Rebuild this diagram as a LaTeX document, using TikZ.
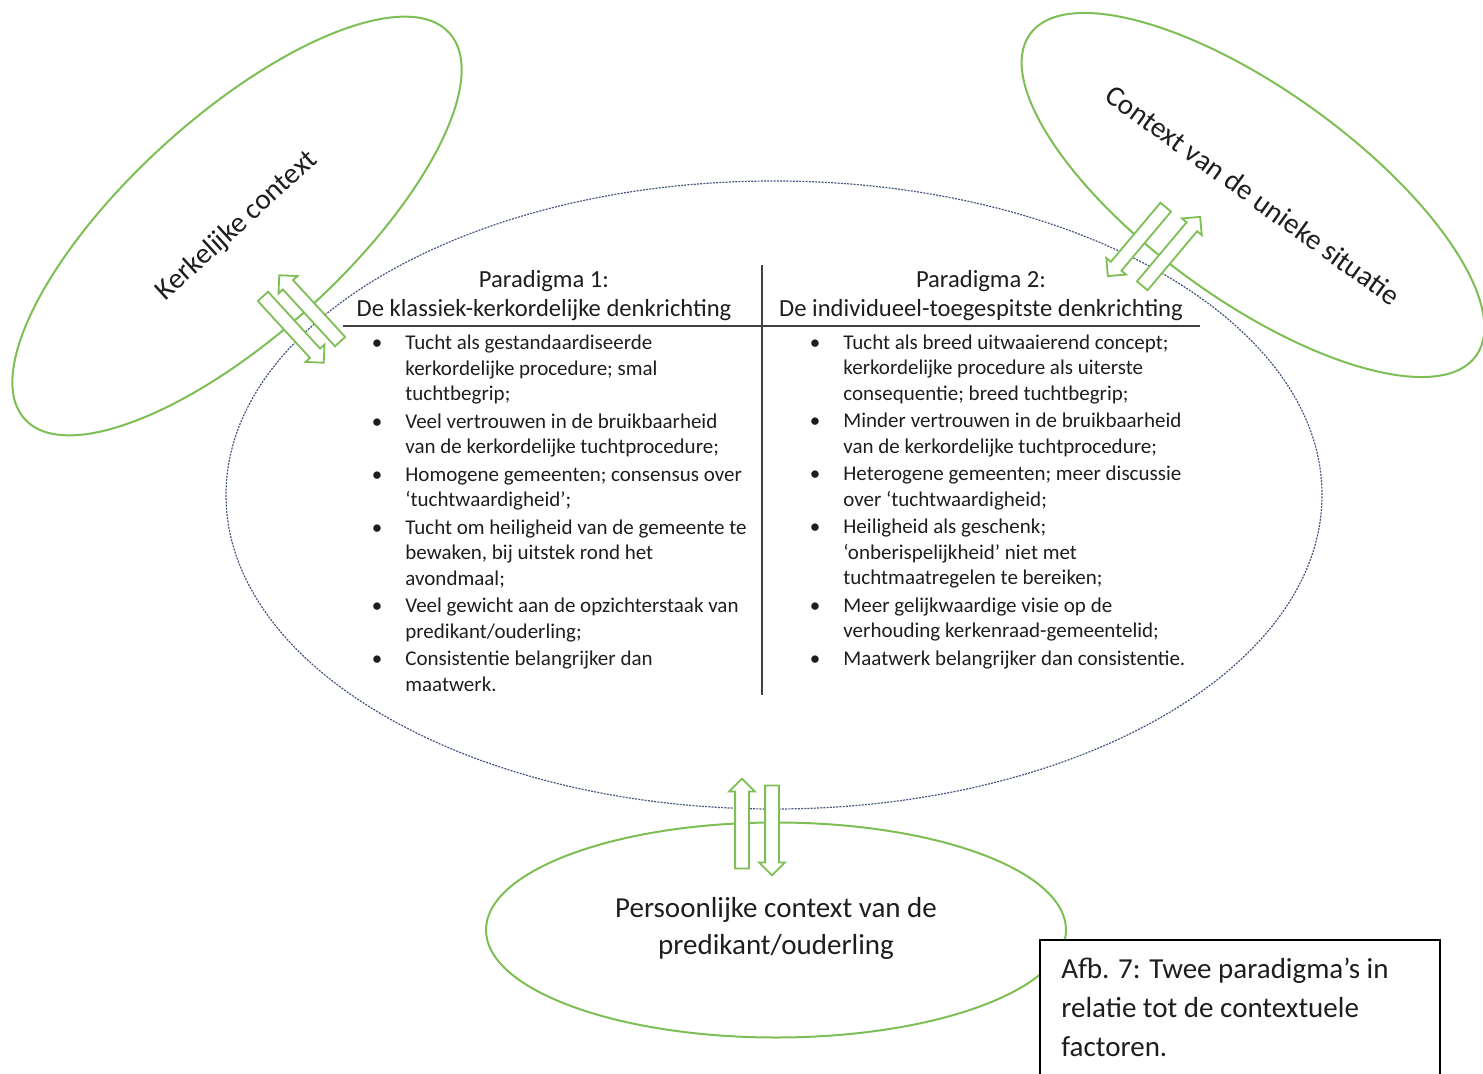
\documentclass[tikz,border=0pt]{standalone}
\usepackage{fontspec}
\setmainfont{Carlito}
\usepackage{xcolor}
\usepackage{tikz}
\usetikzlibrary{positioning}
\usetikzlibrary{shapes.geometric,shapes.arrows}

\definecolor{ctxgreen}{RGB}{125,190,85}
\definecolor{coreblue}{RGB}{70,86,125}
\definecolor{inkgrey}{RGB}{30,30,30}
\newcommand{\bul}{\makebox[0pt][r]{\textbullet\hspace{11.5pt}}}

\begin{document}
\begin{tikzpicture}[x=0.5pt,y=0.5pt,
    context/.style={ellipse, draw=ctxgreen, line width=1pt, inner sep=0pt,
      align=center, text=inkgrey, font=\fontsize{14.5}{18.5}\selectfont},
    core/.style={ellipse, draw=coreblue, line width=0.6pt,
      dash pattern=on 1pt off 0.6pt, inner sep=0pt},
    flow/.style={single arrow, draw=ctxgreen, fill=white, line width=0.9pt,
      minimum height=45pt, inner xsep=0pt, inner ysep=3pt,
      text height=0pt, text depth=0pt,
      single arrow head extend=3pt, single arrow tip angle=90},
    head/.style={align=center, anchor=base, inner sep=0pt, text=inkgrey,
      font=\fontsize{12.3}{14.5}\selectfont},
    list/.style={align=left, anchor=base west, inner sep=0pt, text=inkgrey,
      font=\fontsize{10.5}{12.75}\selectfont},
    divider/.style={draw=inkgrey!85, line width=0.75pt}]
  \useasboundingbox (0,0) rectangle (1483,1073);

  % de drie contexten rond het kerndiagram
  \node[core, minimum width=548pt, minimum height=314pt] (core) at (774,578) {};
  \node[context, rotate=42.3, minimum width=287pt, minimum height=109pt]
    (kerk) at (237,847) {Kerkelijke context};
  \node[context, rotate=-35.8, minimum width=275pt, minimum height=105pt]
    (uniek) at (1253,878) {Context van de unieke situatie};
  \node[context, minimum width=290pt, minimum height=107.5pt]
    (pers) at (776,143) {Persoonlijke context van de\\predikant/ouderling\rule[-4pt]{0pt}{0pt}};

  % tabel met de twee paradigma's
  \node[head] (par1) at (544,756) {Paradigma 1:\\De klassiek-kerkordelijke denkrichting};
  \node[head] (par2) at (981,756) {Paradigma 2:\\De individueel-toegespitste denkrichting};
  \coordinate (ruleL) at (343,747);
  \coordinate (ruleR) at (1200,747);
  \coordinate (colT) at (762,808);
  \coordinate (colB) at (762,378);
  \draw[divider] (ruleL) -- (ruleR);
  \draw[divider] (colT) -- (colB);

  \node[list] (lijst1) at (405,382) {%
    \bul Tucht als gestandaardiseerde\\kerkordelijke procedure; smal\\tuchtbegrip;\\[1pt]%
    \bul Veel vertrouwen in de bruikbaarheid\\van de kerkordelijke tuchtprocedure;\\[1pt]%
    \bul Homogene gemeenten; consensus over\\‘tuchtwaardigheid’;\\[1pt]%
    \bul Tucht om heiligheid van de gemeente te\\bewaken, bij uitstek rond het\\avondmaal;\\[1pt]%
    \bul Veel gewicht aan de opzichterstaak van\\predikant/ouderling;\\[1pt]%
    \bul Consistentie belangrijker dan\\maatwerk.};
  \node[list] (lijst2) at (843,408) {%
    \bul Tucht als breed uitwaaierend concept;\\kerkordelijke procedure als uiterste\\consequentie; breed tuchtbegrip;\\[1pt]%
    \bul Minder vertrouwen in de bruikbaarheid\\van de kerkordelijke tuchtprocedure;\\[1pt]%
    \bul Heterogene gemeenten; meer discussie\\over ‘tuchtwaardigheid;\\[1pt]%
    \bul Heiligheid als geschenk;\\‘onberispelijkheid’ niet met\\tuchtmaatregelen te bereiken;\\[1pt]%
    \bul Meer gelijkwaardige visie op de\\verhouding kerkenraad-gemeentelid;\\[1pt]%
    \bul Maatwerk belangrijker dan consistentie.};

  % wisselwerking: blokpijlen heen en terug
  \node[flow, rotate=-47.5] (kerkin)  at (291,746) {};
  \node[flow, rotate=132.5] (kerkuit) at (312,762) {};
  \node[flow, rotate=-130]  (uniekin)  at (1139,834) {};
  \node[flow, rotate=50]    (uniekuit) at (1169,819) {};
  \node[flow, rotate=90]    (persuit) at (742,246) {};
  \node[flow, rotate=-90]   (persin)  at (772,246) {};

  % bijschrift
  \draw[draw=black, fill=white, line width=0.65pt] (1040,133) rectangle (1440,-30);
  \node[align=left, anchor=base west, inner sep=0pt, text=inkgrey,
    font=\fontsize{14.5}{19.5}\selectfont]
    (afb) at (1061,17) {Afb. 7: Twee paradigma’s in\\relatie tot de contextuele\\factoren.};
\end{tikzpicture}
\end{document}
